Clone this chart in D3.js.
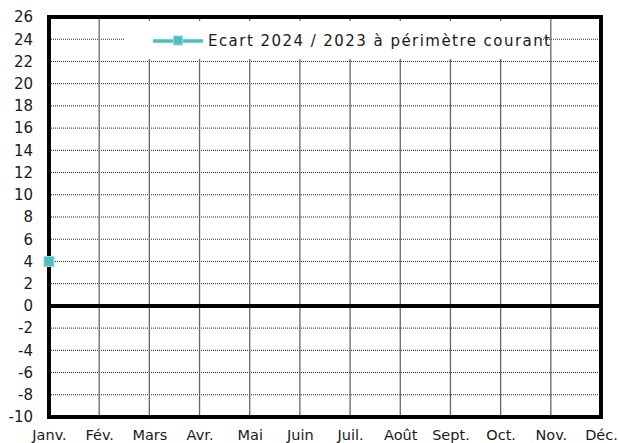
<!DOCTYPE html>
<html>
<head>
<meta charset="utf-8">
<script src="https://cdn.jsdelivr.net/npm/d3@7"></script>
<style>
  html, body { margin: 0; padding: 0; background: #fff; }
  svg { display: block; }
  text { font-family: "DejaVu Sans", "Noto Sans", sans-serif; fill: #1a1a1a; }
</style>
</head>
<body>
<svg id="chart" width="619" height="443"></svg>
<script>
const months = ["Janv.", "Fév.", "Mars", "Avr.", "Mai", "Juin", "Juil.", "Août", "Sept.", "Oct.", "Nov.", "Déc."];
const seriesName = "Ecart 2024 / 2023 à périmètre courant";
const ecart = [4, null, null, null, null, null, null, null, null, null, null, null];
const yTicks = [26, 24, 22, 20, 18, 16, 14, 12, 10, 8, 6, 4, 2, 0, -2, -4, -6, -8, -10];

const svg = d3.select("#chart");
const pL = 49, pR = 601, pT = 17, pB = 417;
const color = "#4CBFC1";
const font = "'DejaVu Sans', sans-serif";

const x = d3.scalePoint().domain(months).range([pL, pR]).padding(0);
const y = d3.scaleLinear().domain([-10, 26]).range([pB, pT]);

// horizontal dotted grid
svg.append("g").selectAll("line").data(yTicks).join("line")
  .attr("x1", pL).attr("x2", pR)
  .attr("y1", d => y(d)).attr("y2", d => y(d))
  .attr("stroke", "#222").attr("stroke-width", 1).attr("stroke-dasharray", "1,1");

// vertical grid
svg.append("g").selectAll("line").data(months).join("line")
  .attr("x1", d => x(d)).attr("x2", d => x(d))
  .attr("y1", pT).attr("y2", pB)
  .attr("stroke", "#666").attr("stroke-width", 1.3);

// legend box
svg.append("rect").attr("x", 125).attr("y", 21).attr("width", 416).attr("height", 38).attr("fill", "#fff");

// frame
svg.append("rect").attr("x", pL).attr("y", pT).attr("width", pR - pL).attr("height", pB - pT)
  .attr("fill", "none").attr("stroke", "#000").attr("stroke-width", 4);

// zero line
svg.append("line").attr("x1", pL).attr("x2", pR).attr("y1", y(0)).attr("y2", y(0))
  .attr("stroke", "#000").attr("stroke-width", 4);

// y axis labels
const yAxis = d3.axisLeft(y).tickValues(yTicks).tickSize(0).tickPadding(0).tickFormat(d => String(d));
const gy = svg.append("g").attr("transform", `translate(33,0)`).call(yAxis);
gy.select(".domain").remove();
gy.selectAll("text").attr("font-size", 15).attr("font-family", font).attr("fill", "#1a1a1a");

// x axis labels
const xAxis = d3.axisBottom(x).tickSize(0).tickPadding(0);
const gx = svg.append("g").attr("transform", `translate(0,430)`).call(xAxis);
gx.select(".domain").remove();
gx.selectAll("text").attr("font-size", 14.5).attr("font-family", font).attr("fill", "#1a1a1a");

// series
const pts = months.map((m, i) => ({ m, v: ecart[i] }));
const line = d3.line().defined(d => d.v != null).x(d => x(d.m)).y(d => y(d.v));
svg.append("path").datum(pts).attr("d", line).attr("fill", "none").attr("stroke", color).attr("stroke-width", 3.5);
svg.append("g").selectAll("rect").data(pts.filter(d => d.v != null)).join("rect")
  .attr("x", d => x(d.m) - 5).attr("y", d => y(d.v) - 5).attr("width", 10).attr("height", 10)
  .attr("fill", color).attr("stroke", "#9FDCDD").attr("stroke-width", 1);

// legend
const lg = svg.append("g");
lg.append("line").attr("x1", 153).attr("x2", 203).attr("y1", 41).attr("y2", 41).attr("stroke", color).attr("stroke-width", 3.5);
lg.append("rect").attr("x", 173.5).attr("y", 36).attr("width", 9).attr("height", 9).attr("fill", color).attr("stroke", "#9FDCDD").attr("stroke-width", 1);
lg.append("text").attr("x", 208).attr("y", 41).attr("dy", "0.36em").attr("font-size", 15)
  .attr("font-family", font).attr("textLength", 342).attr("lengthAdjust", "spacing").text(seriesName);
</script>
</body>
</html>
